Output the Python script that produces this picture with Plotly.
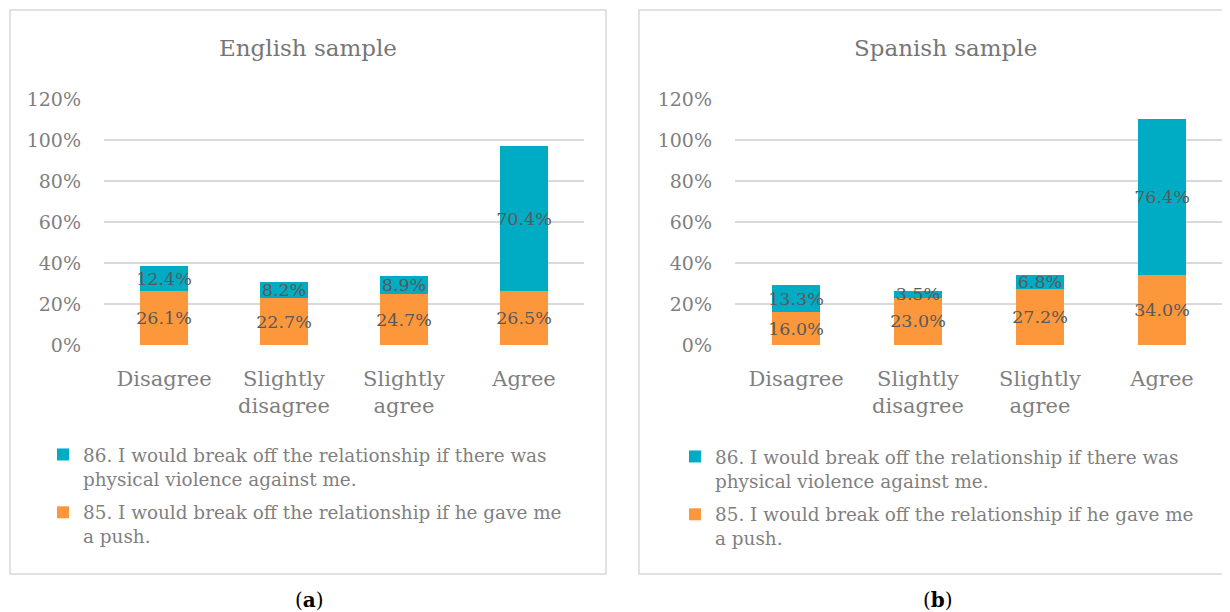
import plotly.graph_objects as go

# ---------------- data ----------------
categories = ["Disagree", "Slightly<br>disagree", "Slightly<br>agree", "Agree"]
english_push = [26.1, 22.7, 24.7, 26.5]
english_violence = [12.4, 8.2, 8.9, 70.4]
spanish_push = [16.0, 23.0, 27.2, 34.0]
spanish_violence = [13.3, 3.5, 6.8, 76.4]
y_ticks = [0, 20, 40, 60, 80, 100, 120]
y_tick_text = [f"{v}%" for v in y_ticks]
label_violence = "86. I would break off the relationship if there was<br>physical violence against me."
label_push = "85. I would break off the relationship if he gave me<br>a push."
titles = ["English sample", "Spanish sample"]
panel_tags = ["(<b>a</b>)", "(<b>b</b>)"]

# ---------------- style ----------------
W, H = 1230, 612
OFF = 8  # page body margin
FONT = "DejaVu Serif"
TEAL = "#00acc4"
ORANGE = "#fd973c"
GREY = "#7f7f7f"
DARK = "#595959"
GRID = "#d9d9d9"


def px_x(x):
    return (x - OFF) / W


def px_y(y):
    return 1 - (y - OFF) / H


fig = go.Figure()

panels = [
    ("x", "y", "legend", english_push, english_violence),
    ("x2", "y2", "legend2", spanish_push, spanish_violence),
]
for xa, ya, lg, push, viol in panels:
    fig.add_trace(go.Bar(
        x=categories, y=push, xaxis=xa, yaxis=ya, name=label_push,
        marker=dict(color=ORANGE, line=dict(width=0)), width=0.4,
        text=[f"{v:.1f}%" for v in push], textposition="inside",
        insidetextanchor="middle", textangle=0,
        textfont=dict(family=FONT, size=17.5, color=DARK),
        legend=lg, legendgroup=lg + "push", legendrank=2,
    ))
    fig.add_trace(go.Bar(
        x=categories, y=viol, xaxis=xa, yaxis=ya, name=label_violence,
        marker=dict(color=TEAL, line=dict(width=0)), width=0.4,
        text=[f"{v:.1f}%" for v in viol], textposition="inside",
        insidetextanchor="middle", textangle=0,
        textfont=dict(family=FONT, size=17.5, color=DARK),
        legend=lg, legendgroup=lg + "viol", legendrank=1,
    ))

ydom = [px_y(345), px_y(99)]
xaxis_common = dict(
    type="category", showgrid=False, showline=False, zeroline=False,
    tickfont=dict(family=FONT, size=21, color=GREY), ticks="",
    ticklabelstandoff=19, fixedrange=True, automargin=False,
)
yaxis_common = dict(
    range=[0, 120], tickmode="array", tickvals=y_ticks, ticktext=y_tick_text,
    showgrid=True, gridcolor=GRID, gridwidth=2, zeroline=False, showline=False,
    ticks="", tickfont=dict(family=FONT, size=19, color=GREY),
    ticklabelstandoff=22, domain=ydom, fixedrange=True, automargin=False,
)

legend_common = dict(
    font=dict(family=FONT, size=18.4, color=GREY), bgcolor="rgba(0,0,0,0)",
    traceorder="grouped", tracegroupgap=7, itemsizing="constant",
    xanchor="left", yanchor="top", orientation="v", valign="top",
)

fig.update_layout(
    template="none",
    width=W, height=H, margin=dict(l=0, r=0, t=0, b=0, autoexpand=False),
    paper_bgcolor="white", plot_bgcolor="white",
    barmode="stack",
    uniformtext=dict(minsize=17.5, mode="show"),
    xaxis=dict(domain=[px_x(104), px_x(584)], anchor="y", **xaxis_common),
    xaxis2=dict(domain=[px_x(735), px_x(1223)], anchor="y2", **xaxis_common),
    yaxis=dict(anchor="x", **yaxis_common),
    yaxis2=dict(anchor="x2", **yaxis_common),
    legend=dict(x=px_x(43), y=px_y(436), **legend_common),
    legend2=dict(x=px_x(675), y=px_y(438), **legend_common),
    showlegend=True,
)

# panel borders
for x0, x1 in [(10, 606), (639, 1228)]:
    fig.add_shape(type="rect", xref="paper", yref="paper",
                  x0=px_x(x0), x1=px_x(x1), y0=px_y(574), y1=px_y(10),
                  line=dict(color=GRID, width=1.5), fillcolor="rgba(0,0,0,0)",
                  layer="below")

# titles
for title, cx in zip(titles, [308, 945]):
    fig.add_annotation(text=title, x=px_x(cx), y=px_y(48), xref="paper", yref="paper",
                       showarrow=False, xanchor="center", yanchor="middle",
                       font=dict(family=FONT, size=23, color="#767676"))

# panel tags
for tag, cx in zip(panel_tags, [309, 938]):
    fig.add_annotation(text=tag, x=px_x(cx), y=px_y(600), xref="paper", yref="paper",
                       showarrow=False, xanchor="center", yanchor="middle",
                       font=dict(family=FONT, size=20, color="black"))

fig.write_html("out.html")
